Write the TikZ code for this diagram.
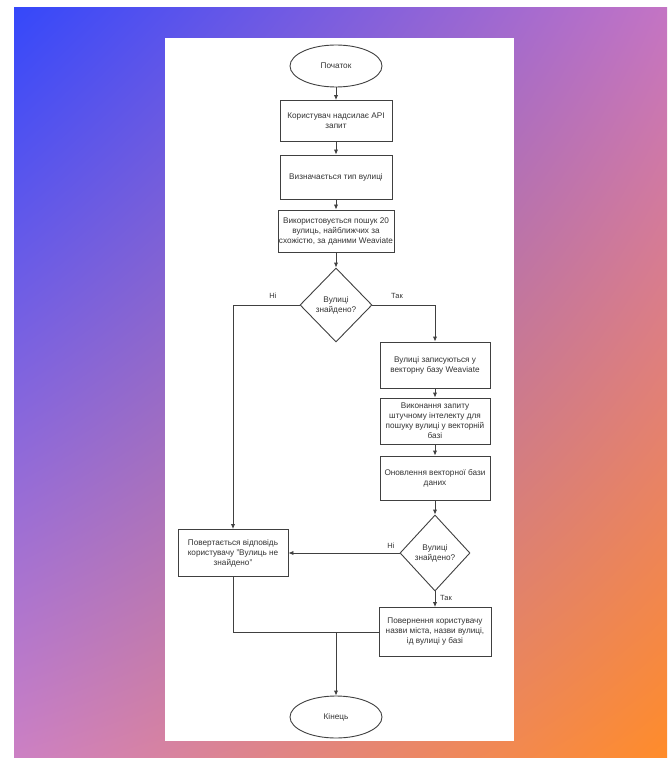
\documentclass[tikz,border=0pt]{standalone}
\usepackage{fontspec}
\setmainfont{Liberation Sans}
\usetikzlibrary{shapes.geometric,arrows.meta,shadings}
\definecolor{cTL}{HTML}{3548FA}
\definecolor{cTR}{HTML}{C474C4}
\definecolor{cBL}{HTML}{CC80C4}
\definecolor{cBR}{HTML}{FF8C2A}
\definecolor{lin}{HTML}{404040}
\definecolor{txt}{HTML}{333333}
\tikzset{
  every node/.style={font=\fontsize{8.2}{10}\selectfont, text=txt},
  proc/.style={draw=lin, line width=0.9pt, rectangle, align=center, inner sep=1pt, minimum width=112pt},
  term/.style={draw=lin, line width=0.9pt, ellipse, minimum width=92pt, minimum height=42pt, inner sep=0pt},
  dec/.style={draw=lin, line width=0.9pt, diamond, align=center, inner sep=0pt, minimum width=72pt, minimum height=74pt},
  arr/.style={draw=lin, line width=0.9pt, -{Latex[length=5pt,width=4.4pt]}},
  ln/.style={draw=lin, line width=0.9pt},
  lab/.style={font=\fontsize{7.5}{8}\selectfont, inner sep=1pt}
}
\begin{document}
\begin{tikzpicture}[x=1pt,y=-1pt]
\useasboundingbox (0,0) rectangle (667,767);
\fill[white] (0,0) rectangle (667,767);
\shade[upper left=cTL, upper right=cTR, lower left=cBL, lower right=cBR] (14,8) rectangle (667,757);
\fill[white] (165,38) rectangle (514,741);

\node[term] (start) at (336,66) {Початок};
\node[proc, minimum height=41pt] (b1) at (336,121) {Користувач надсилає API\\запит};
\node[proc, minimum height=44pt] (b2) at (336,177) {Визначається тип вулиці};
\node[proc, minimum height=42pt] (b3) at (336,231) {Використовується пошук 20\\вулиць, найближчих за\\схожістю, за даними Weaviate};
\node[dec] (d1) at (336,305) {Вулиці\\знайдено?};

\node[proc, minimum width=110pt, minimum height=46pt] (r1) at (435,365) {Вулиці записуються у\\векторну базу Weaviate};
\node[proc, minimum width=110pt, minimum height=46pt] (r2) at (435,421) {Виконання запиту\\штучному інтелекту для\\пошуку вулиці у векторній\\базі};
\node[proc, minimum width=110pt, minimum height=44pt] (r3) at (435,478) {Оновлення векторної бази\\даних};
\node[dec, minimum width=70pt, minimum height=76pt] (d2) at (435,553) {Вулиці\\знайдено?};
\node[proc, minimum width=112pt, minimum height=49pt] (r4) at (435,632) {Повернення користувачу\\назви міста, назви вулиці,\\ід вулиці у базі};

\node[proc, minimum width=110pt, minimum height=47pt] (lb) at (233,553) {Повертається відповідь\\користувачу "Вулиць не\\знайдено"};

\node[term] (end) at (336,717) {Кінець};
\coordinate (j) at (336,632);

\draw[arr] (start) -- (b1);
\draw[arr] (b1) -- (b2);
\draw[arr] (b2) -- (b3);
\draw[arr] (b3) -- (d1);
\draw[arr] (d1.west) -| (lb.north);
\draw[arr] (d1.east) -| (r1.north);
\draw[arr] (r1) -- (r2);
\draw[arr] (r2) -- (r3);
\draw[arr] (r3) -- (d2);
\draw[arr] (d2.west) -- (lb.east);
\draw[arr] (d2.south) -- (r4.north);
\draw[ln] (lb.south) |- (j);
\draw[ln] (r4.west) -- (j);
\draw[arr] (j) -- (end);

\node[lab] (n1) at (273,296) {Ні};
\node[lab] (t1) at (397,296) {Так};
\node[lab] (n2) at (391,546) {Ні};
\node[lab] (t2) at (446,598) {Так};
\end{tikzpicture}
\end{document}
